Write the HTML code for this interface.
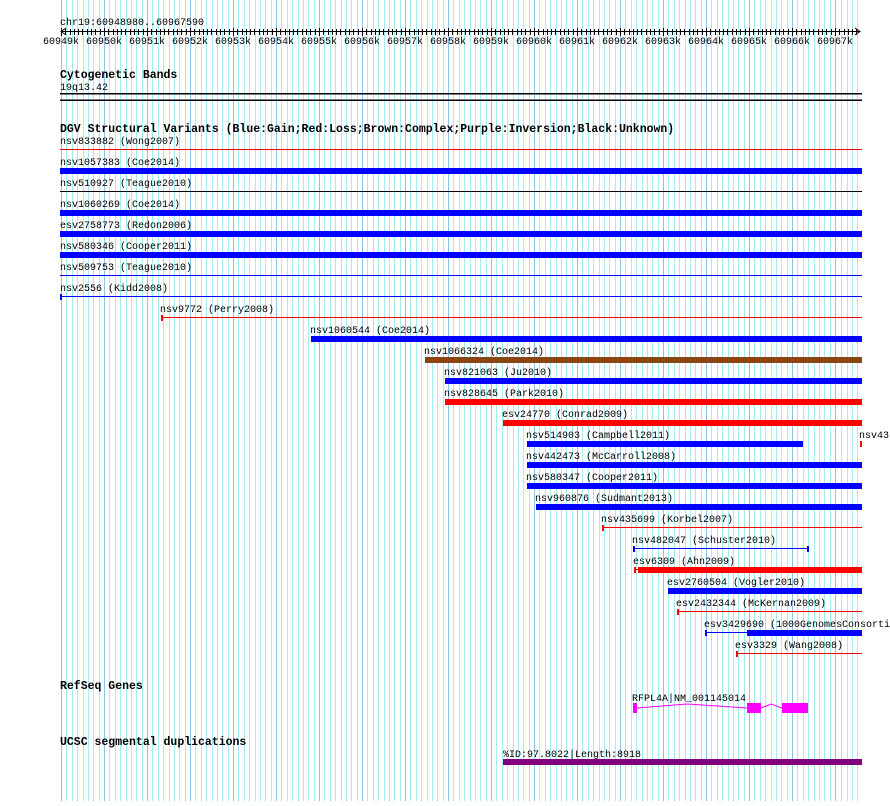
<!DOCTYPE html>
<html><head><meta charset="utf-8"><style>
html,body{margin:0;padding:0;background:#fff;}
svg text{font-family:"Liberation Mono","DejaVu Sans Mono",monospace;font-size:10px;fill:#000;}
svg text.b{font-weight:bold;font-size:11.5px;}
</style></head><body>
<svg width="890" height="801" viewBox="0 0 890 801" xmlns="http://www.w3.org/2000/svg" shape-rendering="crispEdges">
<defs>
<g id="k">
<rect x="0" y="0" width="1" height="801" fill="#88c4ec"/>
<rect x="5" y="0" width="1" height="801" fill="#a4ecf0"/>
<rect x="11" y="0" width="1" height="801" fill="#a4ecf0"/>
<rect x="16" y="0" width="1" height="801" fill="#a4ecf0"/>
<rect x="22" y="0" width="1" height="801" fill="#a4ecf0"/>
<rect x="27" y="0" width="1" height="801" fill="#a4ecf0"/>
<rect x="32" y="0" width="1" height="801" fill="#a4ecf0"/>
<rect x="38" y="0" width="1" height="801" fill="#a4ecf0"/>
</g>
<g id="tk">
<rect x="0" y="28" width="1" height="8" fill="#000"/>
<rect x="4" y="29" width="1" height="6" fill="#000"/>
<rect x="9" y="29" width="1" height="6" fill="#000"/>
<rect x="13" y="29" width="1" height="6" fill="#000"/>
<rect x="17" y="29" width="1" height="6" fill="#000"/>
<rect x="21" y="29" width="1" height="6" fill="#000"/>
<rect x="26" y="29" width="1" height="6" fill="#000"/>
<rect x="30" y="29" width="1" height="6" fill="#000"/>
<rect x="34" y="29" width="1" height="6" fill="#000"/>
<rect x="39" y="29" width="1" height="6" fill="#000"/>
</g>
</defs>
<g>
<use href="#k" x="61"/><use href="#k" x="104"/><use href="#k" x="147"/><use href="#k" x="190"/><use href="#k" x="233"/><use href="#k" x="276"/><use href="#k" x="319"/><use href="#k" x="362"/><use href="#k" x="405"/><use href="#k" x="448"/><use href="#k" x="491"/><use href="#k" x="534"/><use href="#k" x="577"/><use href="#k" x="620"/><use href="#k" x="663"/><use href="#k" x="706"/><use href="#k" x="749"/><use href="#k" x="792"/>
<rect x="835" y="0" width="1" height="801" fill="#88c4ec"/>
<rect x="841" y="0" width="1" height="801" fill="#a4ecf0"/>
<rect x="847" y="0" width="1" height="801" fill="#a4ecf0"/>
<rect x="852" y="0" width="1" height="801" fill="#a4ecf0"/>
<rect x="857" y="0" width="1" height="801" fill="#a4ecf0"/>
</g>
<text x="60" y="25">chr19:60948980..60967590</text>
<rect x="61" y="31" width="799" height="1" fill="#000"/>
<g>
<use href="#tk" x="61"/><use href="#tk" x="104"/><use href="#tk" x="147"/><use href="#tk" x="190"/><use href="#tk" x="233"/><use href="#tk" x="276"/><use href="#tk" x="319"/><use href="#tk" x="362"/><use href="#tk" x="405"/><use href="#tk" x="448"/><use href="#tk" x="491"/><use href="#tk" x="534"/><use href="#tk" x="577"/><use href="#tk" x="620"/><use href="#tk" x="663"/><use href="#tk" x="706"/><use href="#tk" x="749"/><use href="#tk" x="792"/>
<rect x="835" y="28" width="1" height="8" fill="#000"/><rect x="839" y="29" width="1" height="6" fill="#000"/><rect x="844" y="29" width="1" height="6" fill="#000"/><rect x="848" y="29" width="1" height="6" fill="#000"/><rect x="852" y="29" width="1" height="6" fill="#000"/><rect x="856" y="29" width="1" height="6" fill="#000"/>
</g>
<path d="M66,28 L61,31.5 L66,35 M855,28 L860,31.5 L855,35" stroke="#000" fill="none" shape-rendering="auto"/>
<g text-anchor="middle">
<text x="61" y="44">60949k</text><text x="104" y="44">60950k</text><text x="147" y="44">60951k</text><text x="190" y="44">60952k</text><text x="233" y="44">60953k</text><text x="276" y="44">60954k</text><text x="319" y="44">60955k</text><text x="362" y="44">60956k</text><text x="405" y="44">60957k</text><text x="448" y="44">60958k</text><text x="491" y="44">60959k</text><text x="534" y="44">60960k</text><text x="577" y="44">60961k</text><text x="620" y="44">60962k</text><text x="663" y="44">60963k</text><text x="706" y="44">60964k</text><text x="749" y="44">60965k</text><text x="792" y="44">60966k</text><text x="835" y="44">60967k</text>
</g>
<text class="b" x="60" y="78">Cytogenetic Bands</text>
<text x="60" y="90">19q13.42</text>
<rect x="60" y="93" width="802" height="1.5" fill="#000"/>
<rect x="60" y="99.5" width="802" height="1.5" fill="#000"/>
<text class="b" x="60" y="132">DGV Structural Variants (Blue:Gain;Red:Loss;Brown:Complex;Purple:Inversion;Black:Unknown)</text>
<g>
<text x="60" y="144">nsv833882 (Wong2007)</text><rect x="60" y="149" width="802" height="1" fill="#f00"/>
<text x="60" y="165">nsv1057383 (Coe2014)</text><rect x="60" y="168" width="802" height="6" fill="#00f"/>
<text x="60" y="186">nsv510927 (Teague2010)</text><rect x="60" y="191" width="802" height="1" fill="#000"/>
<text x="60" y="207">nsv1060269 (Coe2014)</text><rect x="60" y="210" width="802" height="6" fill="#00f"/>
<text x="60" y="228">esv2758773 (Redon2006)</text><rect x="60" y="231" width="802" height="6" fill="#00f"/>
<text x="60" y="249">nsv580346 (Cooper2011)</text><rect x="60" y="252" width="802" height="6" fill="#00f"/>
<text x="60" y="270">nsv509753 (Teague2010)</text><rect x="60" y="275" width="802" height="1" fill="#00f"/>
<text x="60" y="291">nsv2556 (Kidd2008)</text><rect x="60" y="296" width="802" height="1" fill="#00f"/><rect x="60" y="294" width="2" height="6" fill="#00f"/>
<text x="160" y="312">nsv9772 (Perry2008)</text><rect x="161" y="317" width="701" height="1" fill="#f00"/><rect x="161" y="315" width="2" height="6" fill="#f00"/>
<text x="310" y="333">nsv1060544 (Coe2014)</text><rect x="311" y="336" width="551" height="6" fill="#00f"/>
<text x="424" y="354">nsv1066324 (Coe2014)</text><rect x="425" y="357" width="437" height="6" fill="#8b4513"/>
<text x="444" y="375">nsv821063 (Ju2010)</text><rect x="445" y="378" width="417" height="6" fill="#00f"/>
<text x="444" y="396">nsv828645 (Park2010)</text><rect x="445" y="399" width="417" height="6" fill="#f00"/>
<text x="502" y="417">esv24770 (Conrad2009)</text><rect x="503" y="420" width="359" height="6" fill="#f00"/>
<text x="526" y="438">nsv514903 (Campbell2011)</text><rect x="527" y="441" width="276" height="6" fill="#00f"/>
<text x="859" y="438">nsv43</text><rect x="860" y="441" width="2" height="6" fill="#f00"/>
<text x="526" y="459">nsv442473 (McCarroll2008)</text><rect x="527" y="462" width="335" height="6" fill="#00f"/>
<text x="526" y="480">nsv580347 (Cooper2011)</text><rect x="527" y="483" width="335" height="6" fill="#00f"/>
<text x="535" y="501">nsv960876 (Sudmant2013)</text><rect x="536" y="504" width="326" height="6" fill="#00f"/>
<text x="601" y="522">nsv435699 (Korbel2007)</text><rect x="602" y="527" width="260" height="1" fill="#f00"/><rect x="602" y="525" width="2" height="6" fill="#f00"/>
<text x="632" y="543">nsv482047 (Schuster2010)</text><rect x="633" y="548" width="175" height="1" fill="#00f"/><rect x="633" y="546" width="2" height="6" fill="#00f"/><rect x="807" y="546" width="2" height="6" fill="#00f"/>
<text x="633" y="564">esv6309 (Ahn2009)</text><rect x="634" y="569" width="4" height="1" fill="#f00"/><rect x="634" y="567" width="2" height="6" fill="#f00"/><rect x="638" y="567" width="224" height="6" fill="#f00"/>
<text x="667" y="585">esv2760504 (Vogler2010)</text><rect x="668" y="588" width="194" height="6" fill="#00f"/>
<text x="676" y="606">esv2432344 (McKernan2009)</text><rect x="677" y="611" width="185" height="1" fill="#f00"/><rect x="677" y="609" width="2" height="6" fill="#f00"/>
<text x="704" y="627">esv3429690 (1000GenomesConsorti</text><rect x="705" y="632" width="42" height="1" fill="#00f"/><rect x="705" y="630" width="2" height="6" fill="#00f"/><rect x="747" y="630" width="115" height="6" fill="#00f"/>
<text x="735" y="648">esv3329 (Wang2008)</text><rect x="736" y="653" width="126" height="1" fill="#f00"/><rect x="736" y="651" width="2" height="6" fill="#f00"/>
</g>
<text class="b" x="60" y="689">RefSeq Genes</text>
<text x="632" y="701">RFPL4A|NM_001145014</text>
<rect x="633" y="703" width="4" height="10" fill="#f0f"/>
<rect x="747" y="703" width="14" height="10" fill="#f0f"/>
<rect x="782" y="703" width="26" height="10" fill="#f0f"/>
<polyline points="637,708 687,704 747,708" fill="none" stroke="#f0f" stroke-width="1" shape-rendering="auto"/>
<polyline points="761,708 771,704 782,708" fill="none" stroke="#f0f" stroke-width="1" shape-rendering="auto"/>
<text class="b" x="60" y="745">UCSC segmental duplications</text>
<text x="503" y="757">%ID:97.8022|Length:8918</text>
<rect x="503" y="759" width="359" height="6" fill="#800080"/>
</svg>
</body></html>
